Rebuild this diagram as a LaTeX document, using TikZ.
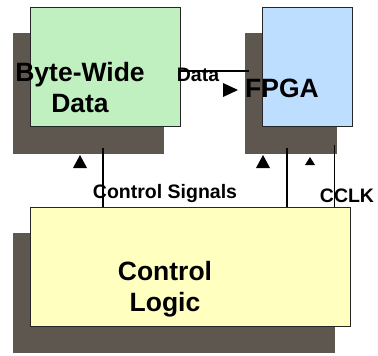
\documentclass[tikz,border=0pt]{standalone}
\usepackage{fontspec}
\setmainfont{Liberation Sans}
\definecolor{bwgreen}{RGB}{192,240,192}
\definecolor{fpblue}{RGB}{190,222,255}
\definecolor{ctyellow}{RGB}{255,255,192}
\definecolor{shade}{RGB}{94,87,80}
\tikzset{
  blk/.style={draw=black!85, line width=0.8pt, anchor=north west, inner sep=0pt},
  shadowbox/.style={fill=shade, anchor=north west, inner sep=0pt},
  bigtxt/.style={font=\fontsize{26.5}{31}\selectfont\bfseries, align=center, inner sep=0pt},
  smalltxt/.style={font=\fontsize{19.5}{22}\selectfont\bfseries, inner sep=0pt},
  wire/.style={line width=1.6pt},
  thinwire/.style={line width=1pt},
  tri/.style={fill=black}
}
\begin{document}
\begin{tikzpicture}[x=1pt,y=-1pt]
\useasboundingbox (0,0) rectangle (378,356);
% shadows
\node[shadowbox, minimum width=151pt, minimum height=121pt] (bwsh) at (13,33) {};
\node[shadowbox, minimum width=92pt, minimum height=121pt] (fpsh) at (245,33) {};
\node[shadowbox, minimum width=322pt, minimum height=120pt] (ctsh) at (13,233) {};
% boxes
\node[blk, fill=bwgreen, minimum width=150pt, minimum height=119pt] (bw) at (30,7) {};
\node[blk, fill=fpblue, minimum width=90pt, minimum height=119pt] (fp) at (262,7) {};
\node[blk, fill=ctyellow, minimum width=320pt, minimum height=119pt] (ct) at (30,207) {};
% texts
\node[bigtxt] (bwt) at (80,88) {Byte-Wide\\Data};
\node[bigtxt] (fpt) at (282,88) {FPGA};
\node[bigtxt] (ctt) at (165,289) {Control\\Logic};
\node[smalltxt] (datal) at (198,75) {Data};
\node[smalltxt] (csl) at (165,193) {Control Signals};
\node[smalltxt] (cclkl) at (347,196) {CCLK};
% wire end coordinates
\coordinate (d1) at (bw.east |- 0,71);
\coordinate (d2) at (249,71);
\coordinate (a1) at (103,148);
\coordinate (a2) at (ct.north -| a1);
\coordinate (b1) at (287,148);
\coordinate (b2) at (ct.north -| b1);
\coordinate (c1) at (334,145);
\coordinate (c2) at (ct.north -| c1);
% wires
\draw[wire] (d1) -- (d2);
\draw[wire] (a1) -- (a2);
\draw[wire] (b1) -- (b2);
\draw[thinwire] (c1) -- (c2);
% arrowheads
\fill[tri] (223,83) -- (238,90) -- (223,97) -- cycle;
\fill[tri] (73,168) -- (80,155) -- (87,168) -- cycle;
\fill[tri] (256,168) -- (263,155) -- (270,168) -- cycle;
\fill[tri] (305,165) -- (310,157) -- (315,165) -- cycle;
\end{tikzpicture}
\end{document}
